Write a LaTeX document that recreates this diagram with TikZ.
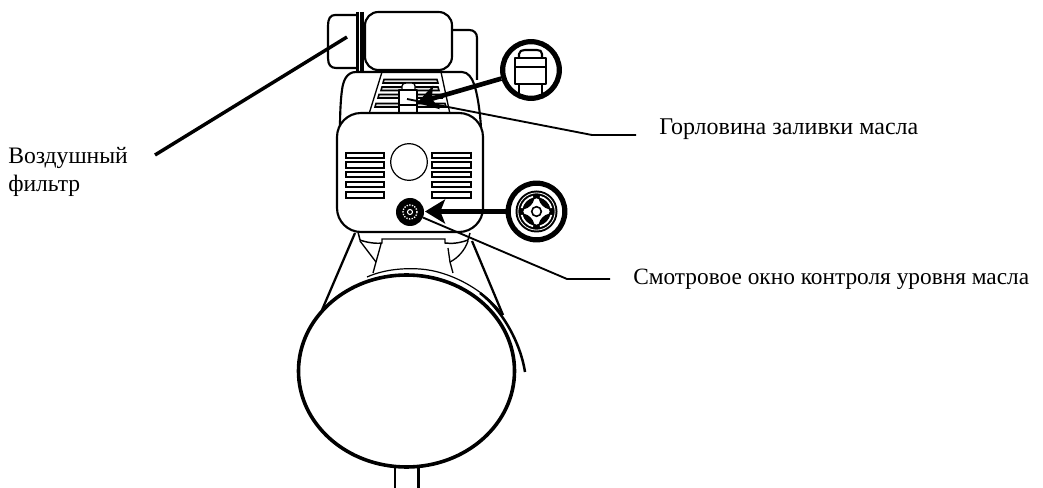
\documentclass[tikz,border=0pt]{standalone}
\usepackage{fontspec}
\setmainfont{Liberation Serif}
\usetikzlibrary{arrows.meta,shapes.geometric}
\tikzset{
  x=0.75pt,y=-0.75pt,
  thin line/.style={line width=1pt,line join=round},
  body line/.style={line width=1.6pt,line join=round},
  leader/.style={line width=1.4pt,line join=round},
  slot/.style={draw,line width=1.15pt,fill=white},
  topslot/.style={draw,line width=1.15pt,fill=black!12},
  ring/.style={circle,draw,line width=3.9pt,minimum size=42.5pt,inner sep=0pt,fill=white},
  callarrow/.style={line width=3.5pt,-{Stealth[length=15pt,width=18pt,inset=3.5pt]}},
  lbl/.style={inner sep=0pt,anchor=base west,align=left}
}
\begin{document}
\begin{tikzpicture}
\useasboundingbox (0,0) rectangle (1043,488);
% filter cap, band, tank, rear box
\draw[body line,fill=white] (357,15) -- (335,15) .. controls (330,15) and (328,19) .. (328,26) -- (328,58) .. controls (328,65) and (331,68) .. (336,68) -- (357,68);
\draw[line width=1.6pt] (357.5,12) -- (357.5,71);
\draw[line width=2.8pt] (362,12) -- (362,71);
\draw[body line,rounded corners=10pt,fill=white] (365,12) rectangle (452,70);
\draw[body line] (452,30) -- (469,30) .. controls (474,30) and (477,33) .. (477,38) -- (477,80);
% upper housing
\draw[body line] (340,128) .. controls (340,110) and (341,97) .. (342,90) .. controls (343,82) and (346,72) .. (356,72) -- (462,72) .. controls (468,72) and (472,78) .. (474,84) .. controls (477,92) and (480,110) .. (481,128);
\draw[thin line] (382,72) -- (369,114);
\draw[thin line] (441,72) -- (450,114);
\foreach \yy/\xa/\xb in {79.5/384/437,87/382/438,94.5/379/441,103.5/376/445}{
  \draw[topslot] (\xa,\yy) -- (\xb,\yy) -- (\xb+1,\yy+3.5) -- (\xa-1,\yy+3.5) -- cycle;
}
% oil filler plug
\draw[thin line,fill=white] (402,90) -- (402,86) .. controls (402,84) and (404,83) .. (406,83) -- (412,83) .. controls (414,83) and (415,84) .. (415,86) -- (415,90) -- cycle;
\draw[body line,fill=white] (399,90) rectangle (417,114);
\draw[thin line] (399,105) -- (417,105);
% main box
\draw[body line,rounded corners=18pt,fill=white] (337,113) rectangle (483,232);
\foreach \ya/\yb in {153/158,162/168,172/177,182/187,192/198}{
  \draw[slot] (346,\ya) rectangle (384,\yb);
  \draw[slot] (432,\ya) rectangle (471,\yb);
}
\node[circle,draw,line width=0.9pt,minimum size=27.5pt,inner sep=0pt] (gauge) at (409,162) {};
% sight window
\node[circle,fill=black,minimum size=21pt,inner sep=0pt] (sight) at (410,212) {};
\draw[white,line width=1pt,densely dotted] (sight.center) circle (7);
\draw[white,line width=0.8pt] (sight.center) circle (2.5);
% magnifier top
\node[ring] (magtop) at (531,70) {};
\draw[body line] (519,58) -- (519,54) .. controls (519,51) and (522,50) .. (525,50) -- (537,50) .. controls (540,50) and (542,51) .. (542,54) -- (542,58);
\draw[body line] (515,58) rectangle (546,67);
\draw[body line] (515,67) -- (515,84) -- (546,84) -- (546,67);
\draw[thin line] (519,84) -- (519,96);
\draw[thin line] (542,84) -- (542,96);
% magnifier bottom
\node[ring] (magbot) at (536.5,211.5) {};
\begin{scope}[shift={(536.5,211.5)}]
  \fill[black] (0,0) circle (21);
  \draw[white,line width=0.6pt] (0,0) circle (18.6);
  \foreach \aa in {45,135,225,315}{
    \draw[white,line width=1.3pt] (\aa-32:15.2) arc[start angle=\aa-32,end angle=\aa+32,radius=15.2];
  }
  \draw[line width=1.3pt,fill=white] (-3,-13) .. controls (-1,-14.5) and (1,-14.5) .. (3,-13) .. controls (4,-8) and (8,-4) .. (13,-3) .. controls (14.5,-1) and (14.5,1) .. (13,3) .. controls (8,4) and (4,8) .. (3,13) .. controls (1,14.5) and (-1,14.5) .. (-3,13) .. controls (-4,8) and (-8,4) .. (-13,3) .. controls (-14.5,1) and (-14.5,-1) .. (-13,-3) .. controls (-8,-4) and (-4,-8) .. (-3,-13) -- cycle;
  \draw[line width=1.2pt] (0,0) circle (4.8);
\end{scope}
% arrows
\draw[callarrow] (magtop) -- (417,103);
\draw[callarrow] (magbot) -- (425,211.5);
% lower cradle
\draw[line width=1.7pt] (355,233) -- (322,310);
\draw[line width=1.7pt] (472,241) -- (503,315);
\draw[line width=1.1pt] (358,232) -- (360,240) .. controls (365,242) and (375,244) .. (382,243) -- (382,239) -- (445,239) -- (445,243) .. controls (452,244) and (460,243) .. (468,240) -- (470,233);
\draw[thin line] (360,241) -- (376,262) -- (373,273);
\draw[thin line] (381,244) -- (376,262);
\draw[thin line] (468,241) .. controls (465,250) and (458,258) .. (450,262) -- (453,273);
\draw[thin line] (448,248) -- (450,262);
% tank outer sleeve
\draw[line width=0.9pt] (367,277) .. controls (385,269) and (405,268) .. (420,269) .. controls (450,271) and (485,290) .. (503,315);
\draw[line width=1.9pt] (480,293) .. controls (500,308) and (520,340) .. (525,372);
% drum
\node[ellipse,draw,line width=2.7pt,minimum width=162pt,minimum height=144pt,inner sep=0pt] (drum) at (406.5,371) {};
\draw[body line] (395,467) -- (395,488);
\draw[body line] (418.5,467) -- (418.5,488);
% leaders
\coordinate (airend) at (155,155);
\coordinate (airtip) at (347,37);
\coordinate (oilstart) at (407,99);
\coordinate (oilend) at (636,135);
\coordinate (sightend) at (610,279);
\draw[line width=2.6pt] (airend) -- (airtip);
\draw[leader] (oilstart) -- (592,135) -- (oilend);
\draw[leader] (sight) -- (567,279) -- (sightend);
% labels
\node[lbl,font=\fontsize{17.7}{21}\selectfont] (air) at (8,192) {Воздушный\\фильтр};
\node[lbl,font=\fontsize{18}{21}\selectfont] (oil) at (659,135) {Горловина заливки масла};
\node[lbl,font=\fontsize{17.5}{21}\selectfont] (glass) at (633,285) {Смотровое окно контроля уровня масла};
\end{tikzpicture}
\end{document}
